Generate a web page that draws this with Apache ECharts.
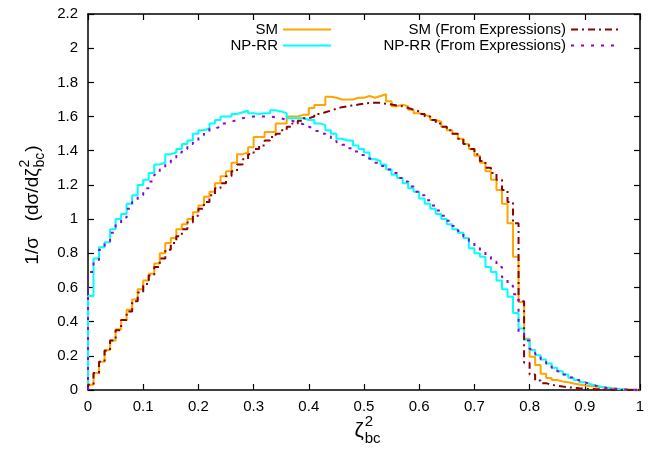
<!DOCTYPE html>
<html>
<head>
<meta charset="utf-8">
<script src="https://cdn.jsdelivr.net/npm/echarts@6/dist/echarts.min.js"></script>
<style>
  html, body { margin: 0; padding: 0; background: #fff; }
  #chart { width: 660px; height: 452px; }
</style>
</head>
<body>
<div id="chart"></div>
<script>
// bin edges of the histograms (100 bins, width 0.01)
const binEdges = Array.from({ length: 101 }, (_, i) => +(i * 0.01).toFixed(2));

const xTickLabels = ['0', '0.1', '0.2', '0.3', '0.4', '0.5', '0.6', '0.7', '0.8', '0.9', '1'];
const yTickLabels = ['0', '0.2', '0.4', '0.6', '0.8', '1', '1.2', '1.4', '1.6', '1.8', '2', '2.2'];

const seriesNames = ['SM', 'NP-RR', 'SM (From Expressions)', 'NP-RR (From Expressions)'];

// SM histogram
const smHist = [
  0.03, 0.10, 0.166, 0.234, 0.29, 0.355, 0.41, 0.47, 0.53, 0.59,
  0.64, 0.68, 0.74, 0.80, 0.86, 0.89, 0.94, 0.97, 1.00, 1.04,
  1.08, 1.13, 1.16, 1.21, 1.25, 1.28, 1.33, 1.38, 1.39, 1.42,
  1.48, 1.48, 1.51, 1.51, 1.56, 1.56, 1.60, 1.60, 1.61, 1.61,
  1.65, 1.667, 1.667, 1.716, 1.71, 1.70, 1.70, 1.70, 1.71, 1.71,
  1.72, 1.71, 1.72, 1.73, 1.69, 1.66, 1.67, 1.66, 1.64, 1.62,
  1.61, 1.60, 1.58, 1.57, 1.54, 1.52, 1.50, 1.47, 1.44, 1.41,
  1.37, 1.33, 1.28, 1.23, 1.17, 1.09, 0.975, 0.78, 0.515, 0.30,
  0.195, 0.147, 0.095, 0.07, 0.058, 0.05, 0.045, 0.038, 0.032, 0.027,
  0.023, 0.02, 0.016, 0.013, 0.01, 0.008, 0.005, 0.003, 0.002, 0.001
];

// NP-RR histogram
const nprrHist = [
  0.55, 0.77, 0.835, 0.865, 0.94, 1.00, 1.03, 1.09, 1.14, 1.20,
  1.23, 1.27, 1.32, 1.33, 1.38, 1.39, 1.41, 1.44, 1.46, 1.50,
  1.52, 1.53, 1.56, 1.58, 1.60, 1.60, 1.615, 1.625, 1.634, 1.62,
  1.615, 1.62, 1.62, 1.637, 1.63, 1.62, 1.59, 1.59, 1.59, 1.58,
  1.58, 1.56, 1.55, 1.52, 1.50, 1.47, 1.46, 1.46, 1.43, 1.41,
  1.39, 1.35, 1.34, 1.32, 1.29, 1.26, 1.24, 1.21, 1.18, 1.16,
  1.12, 1.09, 1.06, 1.03, 1.00, 0.97, 0.94, 0.92, 0.89, 0.83,
  0.80, 0.78, 0.72, 0.69, 0.64, 0.59, 0.545, 0.45, 0.36, 0.296,
  0.234, 0.204, 0.178, 0.155, 0.13, 0.11, 0.09, 0.072, 0.058, 0.045,
  0.035, 0.026, 0.019, 0.013, 0.009, 0.006, 0.004, 0.002, 0.001, 0
];

// SM from expressions
const smExpr = [
  0.03, 0.10, 0.165, 0.23, 0.29, 0.35, 0.41, 0.46, 0.52, 0.57,
  0.62, 0.67, 0.72, 0.77, 0.82, 0.86, 0.90, 0.94, 0.98, 1.02,
  1.06, 1.10, 1.14, 1.18, 1.21, 1.25, 1.28, 1.32, 1.35, 1.38,
  1.41, 1.43, 1.46, 1.48, 1.50, 1.52, 1.54, 1.56, 1.575, 1.59,
  1.60, 1.615, 1.625, 1.635, 1.645, 1.655, 1.66, 1.665, 1.67, 1.675,
  1.68, 1.68, 1.68, 1.675, 1.67, 1.665, 1.66, 1.65, 1.64, 1.63,
  1.615, 1.60, 1.58, 1.56, 1.54, 1.52, 1.50, 1.47, 1.44, 1.41,
  1.38, 1.34, 1.30, 1.27, 1.23, 1.17, 1.10, 0.975, 0.52, 0.16,
  0.09, 0.055, 0.04, 0.03, 0.025, 0.02, 0.016, 0.013, 0.01, 0.008,
  0.006, 0.005, 0.004, 0.003, 0.002, 0.001, 0, 0, 0, 0
];

// NP-RR from expressions
const nprrExpr = [
  0.69, 0.76, 0.82, 0.87, 0.92, 0.97, 1.01, 1.06, 1.10, 1.14,
  1.18, 1.22, 1.26, 1.29, 1.33, 1.36, 1.39, 1.41, 1.44, 1.46,
  1.49, 1.51, 1.53, 1.54, 1.56, 1.57, 1.58, 1.59, 1.595, 1.60,
  1.60, 1.60, 1.60, 1.595, 1.59, 1.58, 1.575, 1.565, 1.555, 1.54,
  1.53, 1.515, 1.50, 1.485, 1.47, 1.45, 1.435, 1.415, 1.395, 1.375,
  1.355, 1.35, 1.33, 1.31, 1.29, 1.27, 1.24, 1.22, 1.19, 1.16,
  1.14, 1.11, 1.08, 1.05, 1.02, 0.99, 0.96, 0.93, 0.90, 0.87,
  0.84, 0.81, 0.78, 0.75, 0.72, 0.66, 0.61, 0.56, 0.33, 0.29,
  0.24, 0.21, 0.18, 0.155, 0.13, 0.11, 0.09, 0.073, 0.058, 0.045,
  0.034, 0.025, 0.018, 0.012, 0.008, 0.005, 0.003, 0.002, 0.001, 0
];

const FONT = '"Liberation Sans", Arial, Helvetica, sans-serif';

// histogram steps: start at (0,0), one point per left bin edge, close at x = 1
const toSteps = vals => {
  const d = [[0, 0]];
  vals.forEach((v, i) => d.push([binEdges[i], v]));
  d.push([binEdges[binEdges.length - 1], vals[vals.length - 1]]);
  return d;
};

const measureCtx = document.createElement('canvas').getContext('2d');
const textWidth = (s, size) => {
  measureCtx.font = size + 'px ' + FONT;
  return measureCtx.measureText(s).width;
};

// axis title built from pieces so that the 2 and bc stack like gnuplot does
const buildTitle = (main, mainSize, scriptSize, tail, cx, cy, rotation) => {
  const w1 = textWidth(main, mainSize);
  const ws = Math.max(textWidth('2', scriptSize), textWidth('bc', scriptSize));
  const w2 = tail ? textWidth(tail, mainSize) : 0;
  const x0 = -(w1 + ws + w2) / 2;
  const base = { fill: '#000', fontFamily: FONT, verticalAlign: 'middle', align: 'left' };
  const children = [
    { type: 'text', x: x0, y: 0, style: Object.assign({ text: main, fontSize: mainSize }, base) },
    { type: 'text', x: x0 + w1 + 1, y: -mainSize * 0.42, style: Object.assign({ text: '2', fontSize: scriptSize }, base) },
    { type: 'text', x: x0 + w1 + 1, y: mainSize * 0.38, style: Object.assign({ text: 'bc', fontSize: scriptSize }, base) }
  ];
  if (tail) {
    children.push({ type: 'text', x: x0 + w1 + ws + 2, y: 0, style: Object.assign({ text: tail, fontSize: mainSize }, base) });
  }
  return { type: 'group', x: cx, y: cy, rotation: rotation, children: children };
};

const chart = echarts.init(document.getElementById('chart'), null, { renderer: 'canvas' });

const axisLineStyle = { color: '#000', width: 1.5 };
const tickStyle = { color: '#000', width: 1.2 };

const legendAt = (name, right, top) => ({
  data: [name],
  right: right,
  top: top,
  align: 'right',
  orient: 'horizontal',
  itemWidth: 48,
  itemHeight: 10,
  padding: 0,
  selectedMode: false,
  itemStyle: { opacity: 0 },
  textStyle: { fontFamily: FONT, fontSize: 15, color: '#000' }
});

chart.setOption({
  animation: false,
  backgroundColor: '#fff',
  grid: { left: 88, right: 20, top: 14, bottom: 62 },
  legend: [
    legendAt(seriesNames[0], 328, 22),
    legendAt(seriesNames[1], 328, 38),
    legendAt(seriesNames[2], 40, 22),
    legendAt(seriesNames[3], 40, 38)
  ],
  xAxis: [
    {
      type: 'value', min: 0, max: 1, interval: 0.1, position: 'bottom',
      axisLine: { show: true, onZero: false, lineStyle: axisLineStyle },
      axisTick: { show: true, inside: true, length: 6, lineStyle: tickStyle },
      axisLabel: {
        color: '#000', fontFamily: FONT, fontSize: 15, margin: 9,
        formatter: v => xTickLabels[Math.round(v / 0.1)]
      },
      splitLine: { show: false }
    },
    {
      type: 'value', min: 0, max: 1, interval: 0.1, position: 'top',
      axisLine: { show: true, onZero: false, lineStyle: axisLineStyle },
      axisTick: { show: true, inside: true, length: 6, lineStyle: tickStyle },
      axisLabel: { show: false },
      splitLine: { show: false }
    }
  ],
  yAxis: [
    {
      type: 'value', min: 0, max: 2.2, interval: 0.2, position: 'left',
      axisLine: { show: true, onZero: false, lineStyle: axisLineStyle },
      axisTick: { show: true, inside: true, length: 6, lineStyle: tickStyle },
      axisLabel: {
        color: '#000', fontFamily: FONT, fontSize: 15, margin: 10,
        formatter: v => yTickLabels[Math.round(v / 0.2)]
      },
      splitLine: { show: false }
    },
    {
      type: 'value', min: 0, max: 2.2, interval: 0.2, position: 'right',
      axisLine: { show: true, onZero: false, lineStyle: axisLineStyle },
      axisTick: { show: true, inside: true, length: 6, lineStyle: tickStyle },
      axisLabel: { show: false },
      splitLine: { show: false }
    }
  ],
  graphic: [
    buildTitle('1/σ   (dσ/dζ', 19, 14, ')', 33, 206, Math.PI / 2),
    buildTitle('ζ', 21, 15, '', 367, 431, 0)
  ],
  series: [
    {
      name: seriesNames[0], type: 'line', step: 'end', symbol: 'none',
      data: toSteps(smHist),
      lineStyle: { color: '#FFA500', width: 2 }, itemStyle: { color: '#FFA500' }, z: 2
    },
    {
      name: seriesNames[1], type: 'line', step: 'end', symbol: 'none',
      data: toSteps(nprrHist),
      lineStyle: { color: '#00FFFF', width: 2 }, itemStyle: { color: '#00FFFF' }, z: 3
    },
    {
      name: seriesNames[2], type: 'line', step: 'end', symbol: 'none',
      data: toSteps(smExpr),
      lineStyle: { color: '#8B0000', width: 2, type: [7, 4, 2, 4] }, itemStyle: { color: '#8B0000' }, z: 4
    },
    {
      name: seriesNames[3], type: 'line', step: 'end', symbol: 'none',
      data: toSteps(nprrExpr),
      lineStyle: { color: '#9400D3', width: 2, type: [3, 7] }, itemStyle: { color: '#9400D3' }, z: 5
    }
  ]
});
</script>
</body>
</html>
